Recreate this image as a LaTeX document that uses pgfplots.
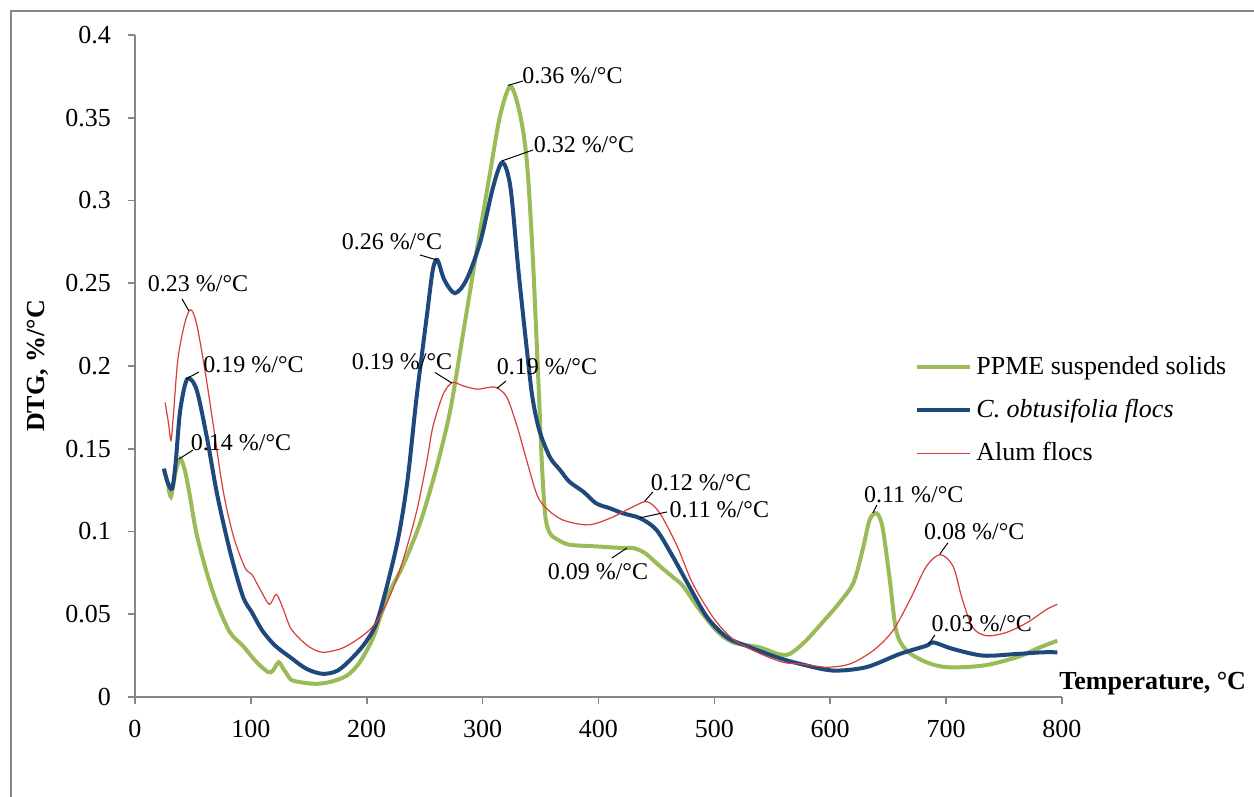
\documentclass[border=0pt]{standalone}
\usepackage{fontspec}
\setmainfont{Liberation Serif}
\usepackage{pgfplots}
\pgfplotsset{compat=1.18}
\definecolor{cgreen}{RGB}{155,187,89}
\definecolor{cblue}{RGB}{31,73,125}
\definecolor{cred}{RGB}{215,62,56}
\definecolor{axgray}{RGB}{134,134,134}
\newcommand\fa{\fontsize{13}{15}\selectfont}
\newcommand\fb{\fontsize{12}{14}\selectfont}
\begin{document}
\begin{tikzpicture}
\useasboundingbox (-67.5pt,-50pt) rectangle (559.5pt,348.5pt);
\draw[axgray, line width=0.8pt] (-62pt,-50pt) -- (-62pt,343pt) -- (559.5pt,343pt);
\begin{axis}[at={(0,0)}, anchor=south west, scale only axis,
  width=463.5pt, height=331pt,
  xmin=0, xmax=800, ymin=0, ymax=0.4,
  xtick={0,100,200,300,400,500,600,700,800},
  xticklabels={0,100,200,300,400,500,600,700,800},
  ytick={0,0.05,0.1,0.15,0.2,0.25,0.3,0.35,0.4},
  yticklabels={0,0.05,0.1,0.15,0.2,0.25,0.3,0.35,0.4},
  axis x line=bottom, axis y line=left,
  axis line style={axgray, line width=0.8pt, -},
  tick style={axgray, line width=0.8pt},
  major tick length=3.5pt, tick align=outside,
  ticklabel style={font=\fa, text=black},
  yticklabel style={xshift=-5pt},
  xticklabel style={yshift=-4.5pt},
  clip=false,
  xlabel={\textbf{Temperature, °C}},
  xlabel style={at={(axis description cs:1,0)}, anchor=base west, xshift=-1.5pt, yshift=3.5pt, inner sep=0pt, font=\fa},
  ylabel={\textbf{DTG, \%/°C}},
  ylabel style={at={(axis description cs:-0.1045,0.5)}, anchor=center, font=\fa},
  legend style={draw=none, fill=none, font=\fa, at={(axis cs:668,0.211)}, anchor=north west, row sep=7pt},
  legend cell align=left,
  legend image code/.code={\draw[#1] (0pt,0pt) -- (26.5pt,0pt);},
]
\addplot[cgreen, line width=2pt, smooth, tension=0.5] coordinates {
(25,0.137)(28,0.130)(31,0.121)(35,0.136)(39,0.144)(43,0.137)(47,0.123)(53,0.099)(62,0.075)(71,0.056)(82,0.039)(93,0.031)(105,0.021)(115,0.015)(119,0.016)(124,0.021)(128,0.017)(131,0.014)(136,0.010)(154,0.008)(168,0.009)(183,0.013)(194,0.021)(205,0.035)(211,0.047)(220,0.064)(231,0.079)(246,0.105)(260,0.138)(272,0.173)(283,0.219)(295,0.270)(306,0.315)(315,0.351)(324,0.369)(332,0.353)(338,0.325)(343,0.270)(348,0.193)(351,0.143)(354,0.110)(358,0.099)(365,0.095)(375,0.092)(398,0.091)(421,0.090)(430,0.090)(440,0.087)(453,0.079)(465,0.072)(473,0.067)(487,0.053)(502,0.040)(516,0.033)(539,0.030)(555,0.026)(565,0.026)(579,0.034)(597,0.048)(608,0.057)(620,0.069)(628,0.089)(634,0.107)(640,0.111)(645,0.103)(651,0.073)(657,0.040)(666,0.028)(683,0.021)(701,0.018)(732,0.019)(761,0.024)(781,0.030)(796,0.034)
};
\addlegendentry{PPME suspended solids}
\addplot[cblue, line width=2pt, smooth, tension=0.5] coordinates {
(25,0.138)(28,0.130)(32,0.126)(35,0.141)(39,0.173)(45,0.192)(53,0.186)(62,0.157)(71,0.122)(82,0.088)(93,0.061)(101,0.051)(110,0.040)(121,0.031)(134,0.024)(148,0.017)(162,0.014)(175,0.016)(188,0.024)(200,0.034)(210,0.048)(226,0.092)(235,0.130)(243,0.181)(252,0.231)(257,0.258)(261,0.264)(267,0.252)(276,0.244)(286,0.252)(298,0.275)(309,0.308)(317,0.323)(324,0.308)(331,0.257)(338,0.211)(343,0.181)(349,0.161)(358,0.145)(367,0.137)(375,0.130)(387,0.124)(398,0.117)(410,0.114)(421,0.111)(436,0.108)(450,0.101)(464,0.085)(479,0.066)(494,0.048)(511,0.036)(531,0.030)(554,0.024)(574,0.020)(602,0.016)(631,0.018)(660,0.026)(683,0.031)(689,0.033)(706,0.029)(732,0.025)(761,0.026)(783,0.027)(796,0.027)
};
\addlegendentry{\textit{C. obtusifolia flocs}}
\addplot[cred, line width=0.6pt, smooth, tension=0.5] coordinates {
(26,0.178)(29,0.165)(31,0.155)(33,0.169)(37,0.204)(43,0.226)(48,0.234)(53,0.226)(60,0.199)(67,0.167)(76,0.125)(85,0.097)(95,0.078)(101,0.074)(108,0.065)(116,0.056)(122,0.062)(128,0.053)(134,0.042)(141,0.036)(151,0.030)(162,0.027)(177,0.029)(188,0.033)(200,0.039)(209,0.046)(220,0.061)(231,0.082)(243,0.112)(252,0.143)(257,0.163)(266,0.183)(274,0.190)(283,0.188)(295,0.186)(305,0.187)(312,0.187)(321,0.181)(330,0.163)(338,0.143)(347,0.122)(355,0.114)(369,0.107)(391,0.104)(410,0.108)(430,0.115)(442,0.118)(453,0.111)(468,0.091)(481,0.069)(499,0.048)(516,0.035)(537,0.027)(559,0.021)(574,0.020)(597,0.018)(617,0.020)(637,0.028)(654,0.040)(669,0.059)(683,0.079)(695,0.086)(706,0.079)(714,0.059)(723,0.042)(735,0.037)(752,0.039)(770,0.045)(787,0.053)(796,0.056)
};
\addlegendentry{Alum flocs}
% annotations
\begin{scope}[every node/.style={font=\fb, inner sep=0pt, anchor=center}]
\node at (axis cs:54.4,0.250) {0.23 \%/°C};
\draw[black, line width=0.5pt] (axis cs:40.6,0.2405) -- (axis cs:46.6,0.2332);
\node at (axis cs:102.3,0.2006) {0.19 \%/°C};
\draw[black, line width=0.5pt] (axis cs:44.0,0.1921) -- (axis cs:55.2,0.1964);
\node at (axis cs:91.5,0.1535) {0.14 \%/°C};
\draw[black, line width=0.5pt] (axis cs:38.0,0.1438) -- (axis cs:50.0,0.1492);
\node at (axis cs:221.7,0.2749) {0.26 \%/°C};
\draw[black, line width=0.5pt] (axis cs:245.9,0.2671) -- (axis cs:260.6,0.2640);
\node at (axis cs:230.4,0.2024) {0.19 \%/°C};
\draw[black, line width=0.5pt] (axis cs:258.8,0.1961) -- (axis cs:273.5,0.1897);
\node at (axis cs:355.5,0.1994) {0.19 \%/°C};
\draw[black, line width=0.5pt] (axis cs:312.3,0.1864) -- (axis cs:320.1,0.1909);
\node at (axis cs:377.5,0.3752) {0.36 \%/°C};
\draw[black, line width=0.5pt] (axis cs:321.8,0.3695) -- (axis cs:334.8,0.3722);
\node at (axis cs:387.4,0.3335) {0.32 \%/°C};
\draw[black, line width=0.5pt] (axis cs:316.7,0.3239) -- (axis cs:343.4,0.3305);
\node at (axis cs:488.4,0.1293) {0.12 \%/°C};
\draw[black, line width=0.5pt] (axis cs:440.0,0.1184) -- (axis cs:446.9,0.1239);
\node at (axis cs:504.3,0.1130) {0.11 \%/°C};
\draw[black, line width=0.5pt] (axis cs:435.7,0.1082) -- (axis cs:459.0,0.1118);
\node at (axis cs:399.5,0.0755) {0.09 \%/°C};
\draw[black, line width=0.5pt] (axis cs:411.6,0.0840) -- (axis cs:424.5,0.0900);
\node at (axis cs:672.1,0.1221) {0.11 \%/°C};
\draw[black, line width=0.5pt] (axis cs:636.8,0.1112) -- (axis cs:640.2,0.1160);
\node at (axis cs:724.3,0.0997) {0.08 \%/°C};
\draw[black, line width=0.5pt] (axis cs:694.6,0.0864) -- (axis cs:701.5,0.0931);
\node at (axis cs:730.8,0.0441) {0.03 \%/°C};
\draw[black, line width=0.5pt] (axis cs:685.1,0.0320) -- (axis cs:690.3,0.0375);
\end{scope}
\end{axis}
\end{tikzpicture}
\end{document}
